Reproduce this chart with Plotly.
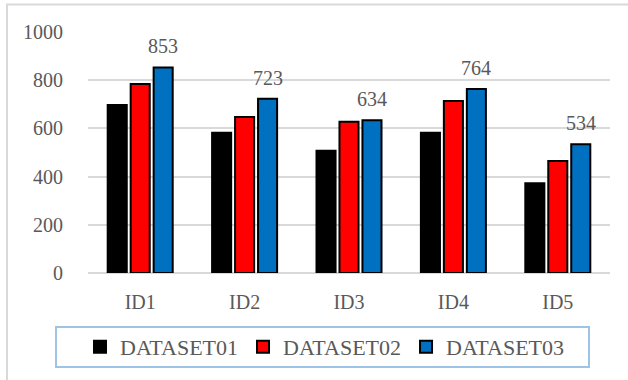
import plotly.graph_objects as go

categories = ["ID1", "ID2", "ID3", "ID4", "ID5"]
dataset01 = [697, 582, 507, 582, 372]
dataset02 = [784, 647, 628, 714, 465]
dataset03 = [853, 723, 634, 764, 534]
series_names = ["DATASET01", "DATASET02", "DATASET03"]
series_colors = ["#000000", "#ff0000", "#0070c0"]
y_ticks = [0, 200, 400, 600, 800, 1000]

FONT = "Liberation Serif, Times New Roman, serif"
GRAY = "#595959"

W, H = 628, 380
ML, MR, MT, MB = 88, 18, 32, 107
PW, PH = W - ML - MR, H - MT - MB


def px_x(px):
    return (px - ML) / PW


def px_y(py):
    return (H - MB - py) / PH


fig = go.Figure()
for name, vals, col in zip(series_names, [dataset01, dataset02, dataset03], series_colors):
    fig.add_trace(go.Bar(
        x=categories, y=vals, name=name,
        marker=dict(color=col, line=dict(color="#000000", width=2)),
    ))

# data labels for DATASET03
for c, v in zip(categories, dataset03):
    fig.add_annotation(
        x=c, y=v, text=str(v), showarrow=False,
        xshift=23, yshift=21, yanchor="middle",
        font=dict(family=FONT, size=20, color=GRAY),
    )

shapes = [
    # outer frame (top and left)
    dict(type="line", xref="paper", yref="paper",
         x0=px_x(6), x1=px_x(640), y0=px_y(4.5), y1=px_y(4.5),
         line=dict(color="#d9d9d9", width=2)),
    dict(type="line", xref="paper", yref="paper",
         x0=px_x(7), x1=px_x(7), y0=px_y(4), y1=px_y(390),
         line=dict(color="#d9d9d9", width=2)),
    # legend box
    dict(type="rect", xref="paper", yref="paper",
         x0=px_x(56), x1=px_x(589), y0=px_y(367), y1=px_y(327),
         line=dict(color="#9dc3e6", width=2)),
]

fig.update_layout(
    width=W, height=H,
    margin=dict(l=ML, r=MR, t=MT, b=MB, pad=0),
    paper_bgcolor="white", plot_bgcolor="white",
    barmode="group", bargap=0.34, bargroupgap=0.17,
    font=dict(family=FONT, color=GRAY),
    shapes=shapes,
    showlegend=True,
    legend=dict(
        orientation="h", x=px_x(325), xanchor="center",
        y=px_y(347), yanchor="middle",
        font=dict(family=FONT, size=22, color=GRAY),
        bgcolor="rgba(0,0,0,0)", borderwidth=0,
        itemwidth=30, traceorder="normal",
    ),
    xaxis=dict(
        showgrid=False, showline=False, zeroline=False,
        tickfont=dict(family=FONT, size=20, color=GRAY),
        ticks="outside", ticklen=11, tickcolor="rgba(0,0,0,0)",
    ),
    yaxis=dict(
        range=[0, 1000], tickvals=y_ticks,
        showgrid=True, gridcolor="#d9d9d9", gridwidth=2,
        zeroline=True, zerolinecolor="#d9d9d9", zerolinewidth=2,
        showline=False,
        tickfont=dict(family=FONT, size=20, color=GRAY),
        ticks="outside", ticklen=20, tickcolor="rgba(0,0,0,0)",
    ),
)

fig.write_html("out.html", config={"displayModeBar": False},
               post_script="document.body.style.margin='0';")
